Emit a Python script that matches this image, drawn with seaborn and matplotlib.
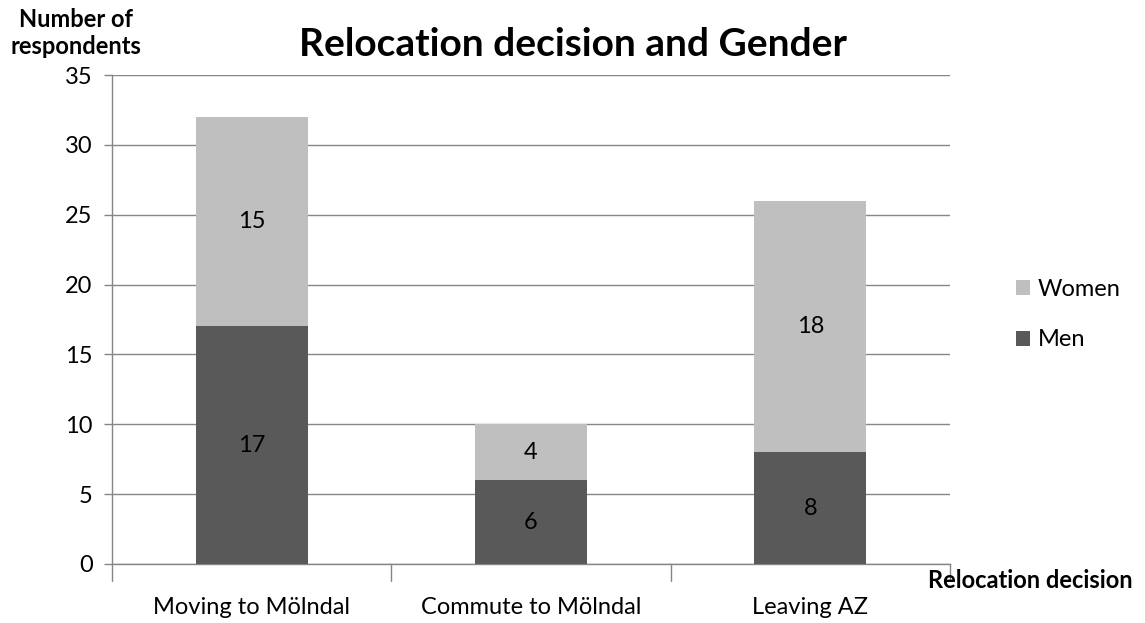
import matplotlib
matplotlib.use("Agg")
import matplotlib.pyplot as plt
import seaborn as sns
import pandas as pd
import numpy as np

categories = ["Moving to Mölndal", "Commute to Mölndal", "Leaving AZ"]
men = [17, 6, 8]
women = [15, 4, 18]
yticks = [0, 5, 10, 15, 20, 25, 30, 35]

sns.set_theme(style="white")
plt.rcParams['font.family'] = ['Lato', 'DejaVu Sans']
plt.rcParams['text.color'] = 'black'
plt.rcParams['xtick.labelcolor'] = 'black'
plt.rcParams['ytick.labelcolor'] = 'black'

df = pd.DataFrame({"cat": categories, "men": men, "women": women})

fig = plt.figure(figsize=(11.45, 6.23), dpi=100)
ax = fig.add_axes([112/1145, 1-564/623, (950-112)/1145, (564-75)/623])

men_c = "#595959"
women_c = "#bfbfbf"

sns.barplot(data=df, x="cat", y="men", color=men_c, width=0.4, ax=ax,
            saturation=1, label="Men", linewidth=0, zorder=3)
sns.barplot(data=df, x="cat", y="women", color=women_c, width=0.4, ax=ax,
            saturation=1, label="Women", linewidth=0, zorder=3, bottom=df["men"])

for i, (m, w) in enumerate(zip(men, women)):
    ax.text(i, m/2, str(m), ha="center", va="center", fontsize=17, color="black", zorder=4)
    ax.text(i, m + w/2, str(w), ha="center", va="center", fontsize=17, color="black", zorder=4)

ax.set_ylim(0, 35)
ax.set_xlim(-0.5, 2.5)
ax.set_yticks(yticks)
ax.set_yticklabels([str(t) for t in yticks], fontsize=17, color="black")
ax.set_xticks([0, 1, 2])
ax.set_xticklabels(categories, fontsize=17, color="black")
ax.tick_params(axis="x", length=0, pad=24)
ax.tick_params(axis="y", length=6, width=1, color="#868686", direction="out", left=True, pad=8)
for b in [-0.5, 0.5, 1.5, 2.5]:
    ax.plot([b, b], [0, -0.035], transform=ax.get_xaxis_transform(), color="#868686",
            lw=1, clip_on=False, zorder=5)

ax.yaxis.grid(True, color="#868686", lw=1, zorder=0)
ax.set_axisbelow(True)
for s in ["top", "right"]:
    ax.spines[s].set_visible(False)
ax.spines["left"].set_color("#868686")
ax.spines["bottom"].set_color("#868686")
ax.spines["left"].set_linewidth(1)
ax.spines["bottom"].set_linewidth(1)

ax.set_xlabel("")
ax.set_ylabel("")

fig.text(573/1145, 1-45/623, "Relocation decision and Gender", ha="center", va="center",
         fontsize=28, fontweight="bold", color="black")
fig.text(76/1145, 1-33/623, "Number of\nrespondents", ha="center", va="center",
         fontsize=17, fontweight="bold", linespacing=1.25, color="black")
fig.text(1030/1145, 1-580/623, "Relocation decision", ha="center", va="center",
         fontsize=17, fontweight="bold", color="black")

handles, labels = ax.get_legend_handles_labels()
order = [labels.index("Women"), labels.index("Men")]
leg = ax.legend([handles[k] for k in order], [labels[k] for k in order],
                loc="center left", bbox_to_anchor=(1.065, 0.51), frameon=False,
                fontsize=17, handlelength=0.6, handleheight=0.6, labelspacing=1.25,
                handletextpad=0.3, borderpad=0)
for t in leg.get_texts():
    t.set_color("black")

fig.savefig("out.png", dpi=100)
